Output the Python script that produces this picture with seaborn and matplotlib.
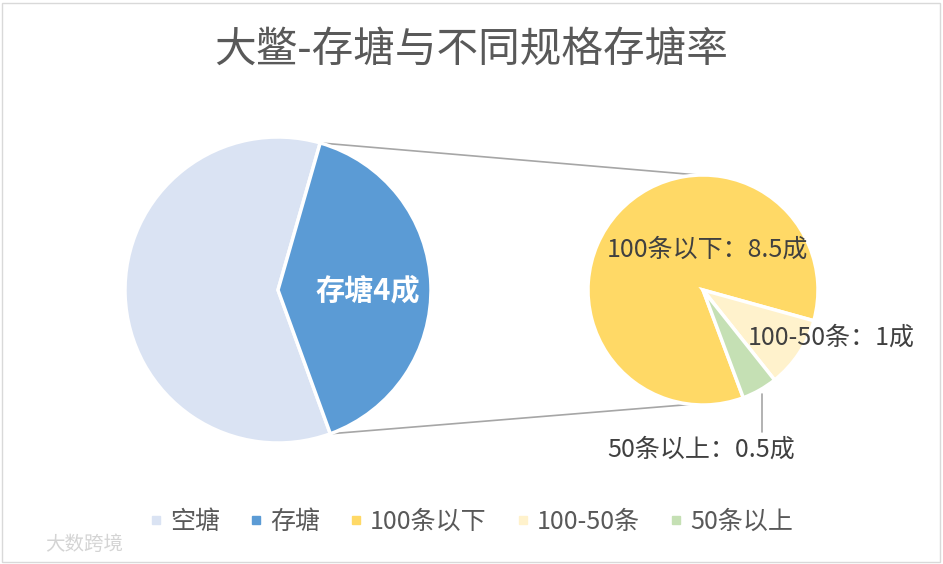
import numpy as np
import matplotlib
matplotlib.use("Agg")
import matplotlib.pyplot as plt
import seaborn as sns
from matplotlib.lines import Line2D
from matplotlib.patches import Rectangle

# ---- data ----
title = "大鳖-存塘与不同规格存塘率"
main_labels = ["空塘", "存塘"]
main_values = [6, 4]
main_text = "存塘4成"
sub_labels = ["100条以下", "100-50条", "50条以上"]
sub_values = [8.5, 1, 0.5]
sub_texts = ["100条以下：8.5成", "100-50条：1成", "50条以上：0.5成"]

main_colors = ["#dae3f3", "#5b9bd5"]
sub_colors = ["#ffd966", "#fff2cc", "#c5e0b4"]

sns.set_theme(style="white")
plt.rcParams["font.family"] = ["Noto Sans CJK SC", "DejaVu Sans"]

W, H = 943, 564
fig = plt.figure(figsize=(W / 100, H / 100), dpi=100)
ax = fig.add_axes([0, 0, 1, 1])

# border
fig.patches.append(Rectangle((2 / W, 2 / H), (W - 5) / W, (H - 5) / H,
                             transform=fig.transFigure, fill=False,
                             edgecolor="#d9d9d9", linewidth=1))

# main pie
c1 = (278, 274)
r1 = 153
main_start = -70
ax.pie(main_values, colors=main_colors, center=c1, radius=r1,
       startangle=main_start, counterclock=False,
       wedgeprops=dict(edgecolor="white", linewidth=2.5))

# secondary pie
c2 = (703, 274)
r2 = 115
sub_start = -69.5
ax.pie(sub_values, colors=sub_colors, center=c2, radius=r2,
       startangle=sub_start, counterclock=False, explode=[0, 0.04, 0.04],
       wedgeprops=dict(edgecolor="white", linewidth=2.5))

ax.set_xlim(0, W)
ax.set_ylim(0, H)
ax.set_aspect("equal")
ax.axis("off")

# connector lines from the "存塘" wedge edges to the secondary pie
tot = sum(main_values)
frac_other = main_values[0] / tot
ang_top = np.deg2rad(main_start - 360 * frac_other)
ang_bot = np.deg2rad(main_start)
p_top = (c1[0] + r1 * np.cos(ang_top), c1[1] + r1 * np.sin(ang_top))
p_bot = (c1[0] + r1 * np.cos(ang_bot), c1[1] + r1 * np.sin(ang_bot))
q_top = (c2[0] + r2 * np.cos(np.deg2rad(92)), c2[1] + r2 * np.sin(np.deg2rad(92)))
q_bot = (c2[0] + r2 * np.cos(np.deg2rad(264)), c2[1] + r2 * np.sin(np.deg2rad(264)))
ax.plot([p_top[0], q_top[0]], [p_top[1], q_top[1]], color="#a6a6a6", lw=1.2, zorder=0)
ax.plot([p_bot[0], q_bot[0]], [p_bot[1], q_bot[1]], color="#a6a6a6", lw=1.2, zorder=0)

# main label
ax.text(c1[0] + 37, c1[1], main_text, color="white", fontsize=21,
        fontweight="bold", ha="left", va="center")

# sub labels
txt_col = "#404040"
ax.text(c2[0] - 96, c2[1] + 40, sub_texts[0], color=txt_col, fontsize=18,
        ha="left", va="center")
ax.text(c2[0] + 45, c2[1] - 48, sub_texts[1], color=txt_col, fontsize=18,
        ha="left", va="center")
ax.text(c2[0] - 96, c2[1] - 160, sub_texts[2], color=txt_col, fontsize=18,
        ha="left", va="center")
# leader line for smallest slice
tot2 = sum(sub_values)
mid = sub_start - 360 * (sub_values[0] + sub_values[1] + sub_values[2] / 2) / tot2
mr = np.deg2rad(mid)
ex = c2[0] + r2 * 1.04 * np.cos(mr)
ey = c2[1] + r2 * 1.04 * np.sin(mr)
ax.plot([ex, ex], [ey, c2[1] - 142], color="#a6a6a6", lw=1.2)

# title
ax.text(W / 2, H - 50, title, color="#595959", fontsize=30,
        ha="center", va="center")

# legend
handles = [Line2D([], [], marker="s", linestyle="none", markersize=5.5,
                  markerfacecolor=c, markeredgecolor=c)
           for c in main_colors + sub_colors]
leg = ax.legend(handles, main_labels + sub_labels, loc="center",
                bbox_to_anchor=(0.5, 42 / H), ncol=5, frameon=False,
                fontsize=18, handletextpad=0.3, columnspacing=1.2,
                handlelength=0.5, borderaxespad=0)
for t in leg.get_texts():
    t.set_color("#595959")

# faint watermark text
ax.text(45, 20, "大数跨境", color="#d4d4d4", fontsize=14, ha="left", va="center")

fig.savefig("out.png", dpi=100)
